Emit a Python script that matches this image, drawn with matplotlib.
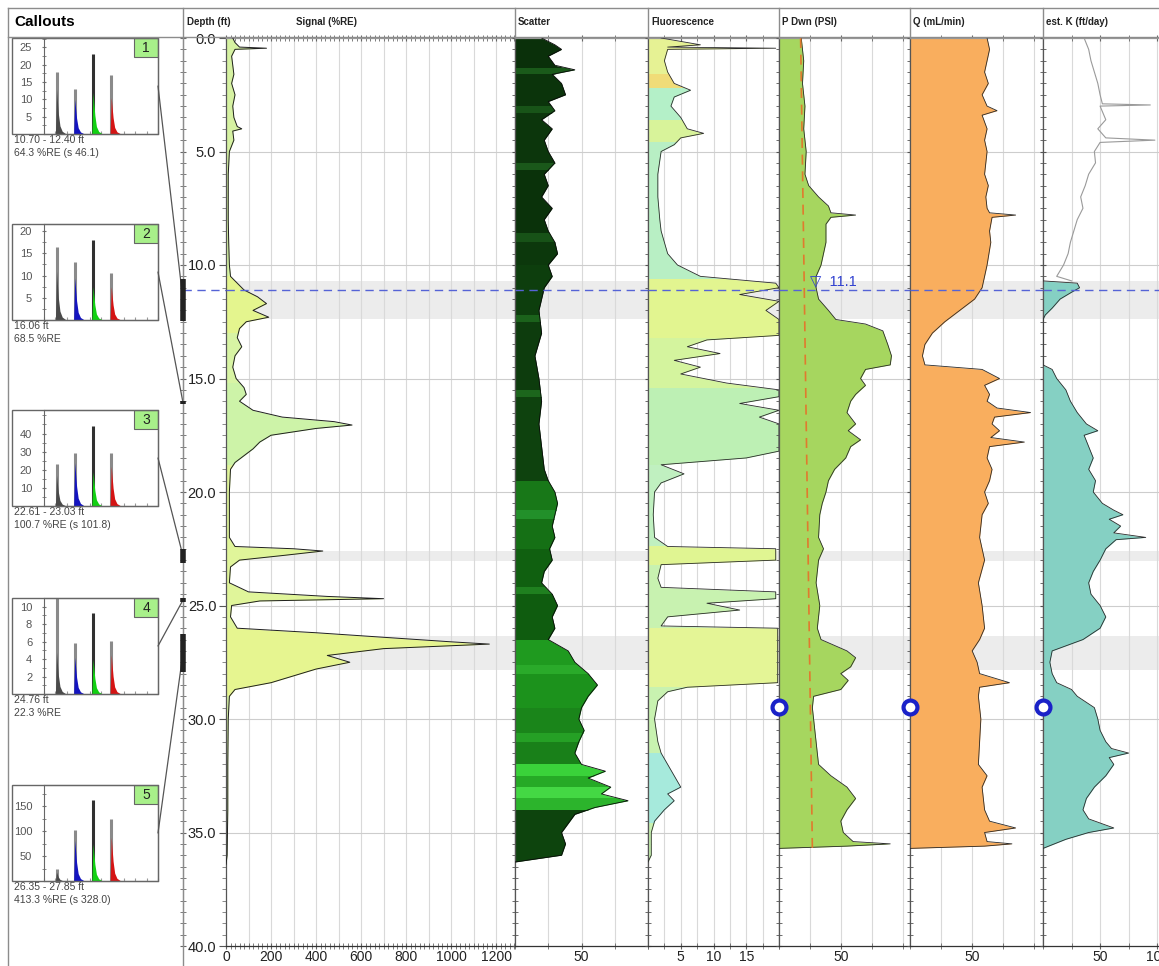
import numpy as np
import matplotlib
matplotlib.use("Agg")
import matplotlib.pyplot as plt
from matplotlib.patches import Rectangle, ConnectionPatch
from matplotlib.lines import Line2D
from matplotlib.transforms import blended_transform_factory
from matplotlib.ticker import MultipleLocator, FixedLocator, FormatStrFormatter, NullFormatter

plt.rcParams['font.family'] = ['Liberation Sans', 'DejaVu Sans']

water_level = 11.1
probe_depth = 29.45

sig_d = [0.0, 0.2, 0.4, 0.45, 0.5, 0.8, 1.2, 1.6, 2.0, 2.5, 3.0, 3.5, 3.9, 4.0, 4.1, 4.5, 5.0, 6.0, 7.0,
         8.0, 9.0, 10.0, 10.5, 10.8, 11.1, 11.4, 11.7, 12.0, 12.3, 12.5, 12.8, 13.2, 13.6, 14.0, 14.5,
         15.0, 15.4, 15.7, 16.0, 16.4, 16.7, 16.9, 17.05, 17.2, 17.5, 17.8, 18.1, 18.4, 18.7, 19.0,
         20.0, 21.0, 22.0, 22.4, 22.5, 22.6, 22.8, 23.0, 23.3, 24.0, 24.4, 24.6, 24.7, 24.8, 25.0,
         25.5, 26.0, 26.2, 26.4, 26.6, 26.7, 26.9, 27.2, 27.5, 27.8, 28.1, 28.4, 28.7, 29.0, 30.0,
         32.0, 34.0, 36.0, 36.4]
sig_v = [30, 40, 60, 180, 40, 25, 30, 35, 25, 40, 30, 35, 50, 70, 30, 35, 15, 10, 10,
         10, 12, 15, 20, 50, 80, 140, 180, 120, 190, 90, 60, 50, 70, 40, 30,
         45, 80, 90, 60, 120, 250, 480, 560, 400, 200, 150, 120, 80, 40, 20,
         15, 15, 15, 40, 300, 430, 250, 60, 20, 15, 100, 450, 700, 150, 25,
         20, 50, 400, 700, 1000, 1170, 700, 450, 550, 400, 300, 200, 40, 15, 10,
         8, 8, 5, 0]

scat_d = [0, 0.3, 0.5, 0.8, 1.2, 1.4, 1.6, 2.0, 2.5, 2.8, 3.2, 3.6, 4.0, 4.5, 5.0, 5.5, 6.0, 6.5, 7.0,
          7.5, 8.0, 8.5, 9.0, 9.5, 10.0, 10.5, 11, 11.5, 12, 13, 14, 15, 16, 17, 18, 19, 19.5, 20,
          20.5, 21, 21.5, 22, 22.5, 23, 23.5, 24, 24.5, 25, 25.5, 26, 26.5, 27, 27.5, 28, 28.5, 29,
          29.5, 30, 30.5, 31, 31.5, 32, 32.3, 32.6, 33, 33.3, 33.6, 33.9, 34.2, 34.6, 35, 35.5, 36, 36.3]
scat_v = [20, 30, 35, 25, 30, 45, 28, 35, 38, 25, 30, 20, 28, 22, 25, 30, 22, 25, 20,
          28, 22, 25, 30, 32, 25, 28, 22, 20, 18, 20, 15, 18, 20, 18, 20, 22, 25, 30,
          32, 30, 28, 30, 26, 28, 22, 20, 28, 32, 28, 30, 25, 40, 45, 55, 62, 55,
          50, 48, 52, 48, 45, 50, 68, 55, 72, 65, 85, 60, 45, 40, 35, 38, 35, 0]
scat_bands = [0, 1.3, 1.6, 3.0, 3.3, 5.5, 5.8, 8.6, 9.0, 10, 12.2, 12.5, 15.5, 15.8, 19.5, 20.8,
              21.2, 22.5, 24.2, 24.5, 26.5, 27.6, 28.0, 29.5, 30.6, 31.0, 32, 32.5, 33.0, 33.5,
              34, 36.5]

fl_d = [0, 0.3, 0.4, 0.45, 0.5, 1.0, 1.5, 2.0, 2.3, 2.6, 3.0, 3.5, 4.0, 4.2, 4.4, 4.7, 5.0, 6, 7, 8,
        8.5, 9, 9.5, 10, 10.5, 10.8, 11.0, 11.3, 11.6, 12.0, 12.4, 12.8, 13.1, 13.3, 13.6, 13.9,
        14.2, 14.5, 14.8, 15.2, 15.5, 15.8, 16.1, 16.4, 16.7, 17.0, 17.4, 17.8, 18.2, 18.5, 18.8,
        19.2, 19.6, 20, 21, 22, 22.4, 22.5, 23.0, 23.2, 23.8, 24.2, 24.4, 24.7, 24.9, 25.2, 25.5,
        25.9, 26.0, 27, 28, 28.4, 28.6, 28.8, 29.2, 30, 31, 31.5, 32, 32.5, 33, 33.3, 33.6, 34,
        34.5, 35, 36, 36.3]
fl_v = [2, 8, 3, 19.5, 3, 2.5, 3, 4, 6.5, 4, 3.5, 5, 6, 8.5, 5, 4, 2, 1.5, 1.5, 1.8,
        2, 2.5, 3, 4.5, 8, 19.5, 20, 14, 20, 18, 20, 20, 20, 9, 6, 11,
        4, 8, 5, 12, 20, 20, 14, 20, 17, 20, 20, 20, 20, 15, 2,
        5.5, 2, 1, 0.8, 1, 3, 19.5, 19.5, 2, 1.5, 2, 19.5, 19.5, 9, 14, 3,
        2, 19.8, 19.8, 19.8, 19.8, 6, 3, 1.5, 1, 1.5, 2, 3, 4, 5, 3, 4, 2.5,
        1, 0.5, 0.5, 0]
fl_bands = [0, 1.6, 2.2, 3.6, 4.6, 10.6, 13.2, 15.4, 18.8, 22.4, 23.2, 26, 28.6, 31.5, 34.6, 36.5]

pd_d = [0, 1, 2, 3, 4, 5, 6, 6.5, 7.0, 7.4, 7.7, 7.8, 7.9, 8.2, 9, 10, 10.5, 11, 11.5, 12, 12.4,
        12.6, 12.9, 13.5, 14.0, 14.4, 14.6, 15.0, 15.3, 15.7, 16, 16.5, 17.0, 17.3, 17.7, 18.0,
        18.5, 19, 19.5, 20, 20.5, 21, 22, 22.5, 23, 24, 25, 26, 26.5, 27.0, 27.3, 27.7, 28.0,
        28.3, 28.7, 29.0, 29.5, 30, 31, 32, 32.5, 33, 33.5, 34, 34.5, 35, 35.4, 35.5, 35.6, 35.7]
pd_v = [18, 20, 19, 21, 20, 22, 21, 24, 32, 40, 42, 62, 42, 38, 38, 34, 30, 30, 32, 40, 46,
        70, 84, 88, 91, 90, 70, 66, 70, 62, 58, 55, 62, 56, 66, 58,
        54, 45, 40, 38, 35, 33, 32, 36, 32, 30, 33, 31, 34, 55, 62, 58, 50,
        56, 50, 28, 27, 28, 30, 32, 42, 55, 62, 55, 50, 52, 60, 90, 55, 0]
hyd_d = [0, 35.7]
hyd_v = [17.5, 27]

q_d = [0, 0.5, 1, 1.5, 2, 2.5, 3, 3.2, 3.4, 4, 4.5, 5, 6, 6.5, 7, 7.5, 7.7, 7.8, 7.9, 8.5, 9, 10,
       10.5, 11, 11.5, 12, 12.5, 13, 13.5, 14, 14.4, 14.6, 15.0, 15.3, 15.7, 16, 16.3, 16.5, 16.7,
       17, 17.3, 17.6, 17.8, 18, 18.5, 19, 19.5, 20, 20.5, 21, 22, 23, 24, 25, 26, 26.5, 27,
       27.5, 28, 28.4, 28.6, 29, 30, 31, 32, 32.5, 33, 34, 34.5, 34.8, 35, 35.4, 35.5, 35.6, 35.7]
q_v = [62, 64, 62, 60, 63, 58, 62, 70, 58, 62, 60, 62, 60, 63, 61, 62, 64, 85, 66, 64, 65, 62,
       60, 58, 52, 40, 28, 18, 12, 10, 12, 58, 72, 60, 64, 62, 70, 97, 68,
       66, 72, 65, 92, 64, 62, 66, 64, 60, 63, 58, 56, 60, 55, 58, 60, 56, 50,
       54, 56, 80, 56, 55, 57, 56, 55, 62, 58, 60, 64, 85, 60, 62, 82, 60, 0]

k_line_d = [0, 0.5, 1, 1.5, 2, 2.5, 2.9, 2.95, 3.0, 3.6, 4.0, 4.4, 4.5, 4.6, 5, 5.5, 6, 6.5, 7,
            7.5, 8, 8.5, 9, 9.5, 10, 10.5, 10.7]
k_line_v = [36, 40, 42, 45, 48, 50, 52, 94, 50, 55, 48, 55, 98, 50, 45, 46, 40, 37, 33,
            35, 30, 27, 24, 22, 18, 12, 25]
k_d = [10.7, 10.8, 11.0, 11.2, 11.5, 11.9, 12.2, 12.4, 14.4, 14.6, 15, 15.5, 16, 16.5, 17, 17.3,
       17.5, 18, 18.5, 19, 19.5, 20, 20.5, 20.8, 21.0, 21.2, 21.5, 21.8, 22.0, 22.1, 22.5, 23,
       23.5, 24, 24.5, 25, 25.5, 26, 26.5, 27, 27.5, 28, 28.4, 28.7, 29, 29.5, 30, 30.5, 31,
       31.3, 31.5, 31.7, 32, 32.5, 33, 33.5, 34, 34.4, 34.8, 35, 35.3, 35.6, 35.7]
k_v = [0, 30, 32, 25, 15, 8, 2, 0, 0, 8, 12, 20, 24, 30, 38, 48,
       36, 40, 44, 40, 46, 44, 52, 62, 70, 58, 68, 62, 90, 64, 55, 50,
       44, 40, 42, 50, 55, 50, 35, 8, 6, 8, 12, 25, 30, 45, 48, 50, 55,
       60, 75, 58, 62, 55, 45, 38, 35, 40, 62, 40, 20, 5, 0]

# callout insets
cal_depth = [(10.70, 12.40), (16.06, 16.06), (22.61, 23.03), (24.76, 24.76), (26.35, 27.85)]
cal_text = [("10.70 - 12.40 ft", "64.3 %RE (s 46.1)"), ("16.06 ft", "68.5 %RE"),
            ("22.61 - 23.03 ft", "100.7 %RE (s 101.8)"), ("24.76 ft", "22.3 %RE"),
            ("26.35 - 27.85 ft", "413.3 %RE (s 328.0)")]
cal_ymax = [27.7, 21.6, 53, 11, 193]
cal_ticks = [[5, 10, 15, 20, 25], [5, 10, 15, 20], [10, 20, 30, 40], [2, 4, 6, 8, 10], [50, 100, 150]]
cal_peak = [[18, 13, 23, 17], [16.4, 13, 18, 10.5], [23, 29, 44, 29], [12, 5.9, 9.3, 6.1], [24, 102, 163, 124]]
cal_fill = [[13, 10, 12, 10.5], [11, 9.5, 7.5, 7.5], [17, 24, 19, 22], [4.8, 4.2, 4.0, 4.5], [18, 82, 75, 88]]
chan_x = [11, 27, 43, 59]
pulse_dx = [-1.0, 0, 0.7, 1.6, 3.0, 5.0, 8.5]
pulse_f = [0, 1, 0.75, 0.45, 0.18, 0.06, 0]

# ---------------- layout ----------------
W, H = 1159, 966
TOP, BOT = 38, 946


def px_axes(x0, y0, x1, y1):
    return fig.add_axes([x0 / W, 1 - y1 / H, (x1 - x0) / W, (y1 - y0) / H])


fig = plt.figure(figsize=(W / 100, H / 100), dpi=100)
fig.patch.set_facecolor('white')

# frame lines
frame_col = '#8c8c8c'
for x0, y0, x1, y1 in [(8, 8, 1159, 8), (8, 37, 1159, 37), (8, 8, 8, 966), (183, 8, 183, 966),
                       (515, 8, 515, 38), (648, 8, 648, 38), (779, 8, 779, 38),
                       (910, 8, 910, 38), (1043, 8, 1043, 38)]:
    fig.add_artist(Line2D([x0 / W, x1 / W], [1 - y0 / H, 1 - y1 / H], color=frame_col, lw=1,
                          transform=fig.transFigure))

fig.text(14 / W, 1 - 22 / H, "Callouts", fontsize=11, fontweight='bold', va='center')
for x, lab in [(187, "Depth (ft)"), (296, "Signal (%RE)"), (518, "Scatter"), (651, "Fluorescence"),
               (782, "P Dwn (PSI)"), (913, "Q (mL/min)"), (1046, "est. K (ft/day)")]:
    fig.text(x / W, 1 - 22 / H, lab, fontsize=7, fontweight='bold', va='center', color='#222')

# depth gutter axes (left tick strip)
ax_dep = px_axes(183, TOP, 226, BOT)
ax_dep.set_ylim(40, 0)
ax_dep.set_xlim(0, 1)
for s in ['top', 'right', 'bottom']:
    ax_dep.spines[s].set_visible(False)
ax_dep.spines['left'].set_color('#888')
ax_dep.set_xticks([])
ax_dep.yaxis.set_major_locator(MultipleLocator(5))
ax_dep.yaxis.set_minor_locator(MultipleLocator(0.5))
ax_dep.tick_params(axis='y', which='both', direction='inout', length=4, color='#666', labelleft=False)
ax_dep.axhline(water_level, color='#5563d6', ls=(0, (6, 4)), lw=1)
ax_dep.patch.set_alpha(0)

tracks = [
    # x0, x1, xmax, grid step, minor tick, labelled ticks
    (226, 515, 1284, 100, 20, [0, 200, 400, 600, 800, 1000, 1200]),
    (515, 648, 100, 25, 25, [50]),
    (648, 779, 20, 2.5, 2.5, [5, 10, 15]),
    (779, 910, 106, 25, 25, [50]),
    (910, 1043, 107, 25, 25, [50]),
    (1043, 1180, 120, 25, 25, [50, 100]),
]
axes = []
for i, (x0, x1, xmax, step, mstep, labs) in enumerate(tracks):
    ax = px_axes(x0, TOP, x1, BOT)
    ax.set_xlim(0, xmax)
    ax.set_ylim(40, 0)
    for g in np.arange(step, xmax, step):
        ax.axvline(g, color='#d9d9d9', lw=0.8, zorder=0.5)
    for g in range(5, 40, 5):
        ax.axhline(g, color='#cdcdcd', lw=0.8, zorder=0.5)
    for d0, d1 in cal_depth:
        if d1 > d0:
            ax.axhspan(d0, d1, color='#ececec', lw=0, zorder=0.3)
    ax.axhline(water_level, color='#5563d6', ls=(0, (6, 4)), lw=1, zorder=6)
    ax.xaxis.set_major_locator(FixedLocator(labs))
    ax.xaxis.set_minor_locator(MultipleLocator(mstep))
    ax.tick_params(axis='x', which='both', direction='inout', top=True, bottom=True, length=4,
                   color='#666', labelsize=10, labelcolor='#222', pad=1)
    ax.yaxis.set_major_locator(MultipleLocator(5))
    ax.yaxis.set_minor_locator(MultipleLocator(0.5))
    if i == 0:
        ax.yaxis.set_major_formatter(FormatStrFormatter('%.1f'))
        ax.tick_params(axis='y', which='major', direction='out', length=5, color='#555',
                       labelsize=10.5, labelcolor='#222', pad=2)
        ax.tick_params(axis='y', which='minor', direction='out', length=3, color='#777')
    else:
        ax.tick_params(axis='y', which='both', direction='inout', length=5, color='#555',
                       labelleft=False)
    for s in ax.spines.values():
        s.set_color('#555')
        s.set_linewidth(0.9)
    ax.spines['top'].set_color('#999')
    ax.spines['bottom'].set_color('#333')
    axes.append(ax)

ax_sig, ax_sc, ax_fl, ax_pd, ax_q, ax_k = axes


def band_fill(ax, d, v, edges, colors, xmax):
    for top, bot, col in zip(edges[:-1], edges[1:], colors):
        poly = ax.fill_betweenx(d, 0, v, color=col, lw=0, zorder=2)
        poly.set_clip_path(Rectangle((0, top), xmax, bot - top, transform=ax.transData))


# signal
sig_edges = [0, 10.5, 13, 15.2, 18.8, 26, 29, 37]
band_fill(ax_sig, sig_d, sig_v, sig_edges,
          ['#d6f2a2', '#e4f58e', '#d8f4a4', '#cdf3a8', '#e0f59a', '#e6f590', '#d8f2a4'], 1284)
ax_sig.plot(sig_v, sig_d, color='#1e1e1e', lw=0.7, zorder=3)

# scatter
band_fill(ax_sc, scat_d, scat_v, scat_bands,
          ['#0a300a', '#1a5a1a', '#0b340b', '#185418', '#0c360c', '#1a581a', '#0a320a', '#175217',
           '#0c380c', '#0d3e0d', '#1b621b', '#0d3c0d', '#1c661c', '#0e420e', '#187818', '#22902a',
           '#157015', '#106010', '#1f801f', '#0f5c0f', '#1f9a1f', '#2aaa2a', '#1c921c', '#1a851a',
           '#25a025', '#198019', '#3ad23a', '#26aa26', '#44d844', '#2cb42c', '#0d440d'], 100)
ax_sc.plot(scat_v, scat_d, color='#0a0a0a', lw=0.6, zorder=3)

# fluorescence
band_fill(ax_fl, fl_d, fl_v, fl_bands,
          ['#e6f294', '#f0dc78', '#b4f0c8', '#d8f39a', '#b8efc4', '#e2f590', '#d4f49e', '#bdf0b4',
           '#c0f0c0', '#e0f592', '#c8f2b0', '#e4f596', '#c8f2b0', '#a6eadc', '#c8f2b0'], 20)
ax_fl.plot(fl_v, fl_d, color='#2a2a2a', lw=0.6, zorder=3)

# pressure
ax_pd.fill_betweenx(pd_d, 0, pd_v, color='#a6d65f', lw=0, zorder=2)
ax_pd.plot(pd_v, pd_d, color='#2a2a2a', lw=0.6, zorder=3)
ax_pd.plot(hyd_v, hyd_d, color='#e07a2e', lw=1.2, ls=(0, (6, 4)), zorder=4)
ax_pd.text(25, water_level - 0.05, "\u25bd  11.1", color='#3040d0', fontsize=10.5,
           va='bottom', ha='left', zorder=7)

# flow
ax_q.fill_betweenx(q_d, 0, q_v, color='#f9ae5e', lw=0, zorder=2)
ax_q.plot(q_v, q_d, color='#2a2a2a', lw=0.6, zorder=3)

# est K
ax_k.plot(k_line_v, k_line_d, color='#9a9a9a', lw=0.8, zorder=3)
ax_k.fill_betweenx(k_d, 0, k_v, color='#85d0c3', lw=0, zorder=2)
ax_k.plot(k_v, k_d, color='#2a2a2a', lw=0.6, zorder=3)

for ax in (ax_pd, ax_q, ax_k):
    ax.plot([0], [probe_depth], marker='o', ms=10, mfc='white', mec='#1a22c8', mew=3,
            clip_on=False, zorder=8)

# ---------------- callout insets ----------------
cal_top = [38, 224, 410, 598, 785]
chan_col = ['#4a4a4a', '#1414c0', '#12d012', '#d41414']
line_col = ['#8a8a8a', '#8a8a8a', '#303030', '#8a8a8a']
gutter = blended_transform_factory(ax_dep.transAxes, ax_dep.transData)
for i in range(5):
    top = cal_top[i]
    fig.add_artist(Rectangle((12 / W, 1 - (top + 96) / H), 146 / W, 96 / H, fill=False,
                             ec='#666', lw=1, transform=fig.transFigure))
    ax = px_axes(44, top, 158, top + 96)
    ax.set_xlim(0, 100)
    ax.set_ylim(0, cal_ymax[i])
    ax.set_yticks(cal_ticks[i])
    ax.yaxis.set_minor_locator(MultipleLocator(cal_ticks[i][0] / 2))
    ax.xaxis.set_major_locator(MultipleLocator(10))
    ax.xaxis.set_major_formatter(NullFormatter())
    ax.tick_params(axis='y', which='both', direction='inout', length=3, color='#777',
                   labelsize=8, labelcolor='#555', pad=7)
    ax.tick_params(axis='x', which='both', direction='in', length=2, color='#999')
    for s in ax.spines.values():
        s.set_color('#666')
    for j in range(4):
        x0 = chan_x[j]
        ax.vlines(x0, 0, cal_peak[i][j], color=line_col[j], lw=2.2)
        ax.fill_between(np.array(pulse_dx) + x0, 0, np.array(pulse_f) * cal_fill[i][j],
                        color=chan_col[j], lw=0, zorder=3)
    ax.add_patch(Rectangle((0.79, 0.8), 0.21, 0.2, transform=ax.transAxes, fc='#a8f08a',
                           ec='#666', lw=0.8))
    ax.text(0.895, 0.9, str(i + 1), transform=ax.transAxes, ha='center', va='center',
            fontsize=10, color='#222')
    ax.text(-0.26, -0.01, cal_text[i][0], transform=ax.transAxes, va='top', fontsize=7.5,
            color='#444')
    ax.text(-0.26, -0.15, cal_text[i][1], transform=ax.transAxes, va='top', fontsize=7.5,
            color='#444')
    d0, d1 = cal_depth[i]
    mid = (d0 + d1) / 2
    con = ConnectionPatch(xyA=(1.0, 0.5), coordsA=ax.transAxes, xyB=(0, mid), coordsB=gutter,
                          color='#555', lw=0.9)
    fig.add_artist(con)
    fig.add_artist(Line2D([0, 0], [d0 - 0.08, d1 + 0.08], color='#222', lw=4,
                          transform=gutter, solid_capstyle='butt'))

fig.savefig("out.png", dpi=100)
